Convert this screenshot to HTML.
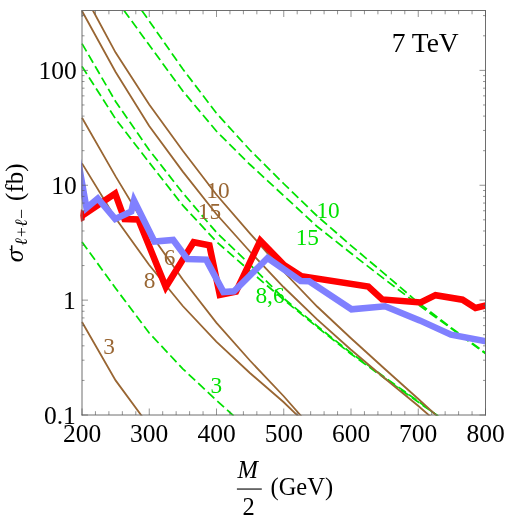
<!DOCTYPE html>
<html><head><meta charset="utf-8"><title>plot</title>
<style>html,body{margin:0;padding:0;background:#fff;}svg{display:block;will-change:transform;}text{font-family:"Liberation Serif",serif;}</style>
</head><body>
<svg width="505" height="517" viewBox="0 0 505 517">
<rect x="0" y="0" width="505" height="517" fill="#ffffff"/>
<defs><clipPath id="c"><rect x="81.0" y="10.0" width="405.0" height="405.5"/></clipPath></defs>
<g clip-path="url(#c)" fill="none">
<path d="M82.0,241.9 L115.6,288.3 L149.2,333.0 L182.8,368.8 L216.3,400.2 L234.9,417.0" stroke="#00e200" stroke-width="1.75" stroke-dasharray="9 4.1" stroke-dashoffset="0"/>
<path d="M82.0,66.4 L115.6,119.0 L149.2,162.5 L182.8,205.4 L216.3,241.5 L249.9,271.0 L283.5,299.5 L317.1,327.0 L350.7,353.7 L384.3,378.0 L417.8,401.8 L439.5,417.0" stroke="#00e200" stroke-width="1.75" stroke-dasharray="9 4.1" stroke-dashoffset="0"/>
<path d="M82.0,43.6 L115.6,101.5 L149.2,150.0 L182.8,193.0 L216.3,232.2 L249.9,264.5 L283.5,298.2 L317.1,326.0 L350.7,352.7 L384.3,377.0 L417.8,401.0 L439.2,417.0" stroke="#00e200" stroke-width="1.75" stroke-dasharray="9 4.1" stroke-dashoffset="0"/>
<path d="M124.0,10.5 L149.2,45.0 L182.8,91.0 L216.3,131.0 L249.9,164.5 L283.5,195.5 L317.1,226.5 L350.7,253.0 L384.3,279.0 L417.8,304.3 L451.4,328.6 L485.5,353.6" stroke="#00e200" stroke-width="1.75" stroke-dasharray="9 4.1" stroke-dashoffset="0"/>
<path d="M141.8,10.5 L149.2,21.0 L182.8,69.0 L216.3,113.0 L249.9,150.0 L283.5,183.5 L317.1,216.0 L350.7,245.3 L384.3,273.6 L417.8,302.3 L451.4,327.9 L485.5,353.0" stroke="#00e200" stroke-width="1.75" stroke-dasharray="9 4.1" stroke-dashoffset="0"/>
<path d="M82.0,322.0 L115.6,380.4 L142.5,417.0" stroke="#996633" stroke-width="1.8"/>
<path d="M82.0,163.4 L115.6,218.3 L149.2,265.0 L182.8,306.0 L216.3,341.6 L249.9,373.0 L283.5,402.0 L299.0,417.0" stroke="#996633" stroke-width="1.8"/>
<path d="M82.0,117.8 L115.6,176.4 L149.2,232.0 L182.8,279.5 L216.3,322.6 L249.9,360.5 L283.5,396.0 L302.0,417.0" stroke="#996633" stroke-width="1.8"/>
<path d="M82.0,11.0 L115.6,72.0 L149.2,126.0 L182.8,171.6 L216.3,214.0 L249.9,251.5 L283.5,287.0 L317.1,319.4 L350.7,349.5 L384.3,378.0 L417.8,405.5 L431.0,417.0" stroke="#996633" stroke-width="1.8"/>
<path d="M82.0,-11.0 L92.9,10.5 L115.6,52.6 L149.2,104.5 L182.8,150.8 L216.3,194.5 L249.9,233.3 L283.5,271.5 L317.1,306.5 L350.7,338.0 L384.3,368.5 L417.8,398.5 L438.0,417.0" stroke="#996633" stroke-width="1.8"/>
<path d="M76.0,219.7 L82.0,215.7 L115.2,193.6 L124.5,219.0 L138.4,219.5 L165.8,287.0 L193.6,242.2 L209.4,245.3 L219.8,295.0 L236.0,291.6 L260.3,240.6 L284.0,265.0 L301.5,276.2 L368.3,286.5 L382.2,299.4 L420.7,302.4 L435.5,295.2 L462.5,299.7 L475.5,308.0 L486.0,305.5" stroke="#ff0000" stroke-width="6.5" stroke-linejoin="miter" stroke-miterlimit="10"/>
</g>
<polygon points="81.0,208.9 80.3,215.5 81.0,221.9 84.5,220 85.3,213.6" fill="#ff0000"/>
<g clip-path="url(#c)" fill="none">
<path d="M77.1,155.2 L86.5,208.0 L97.8,198.5 L115.2,218.9 L131.3,211.5 L134.0,200.5 L154.5,241.6 L173.2,240.0 L187.4,259.0 L206.2,259.6 L223.5,292.0 L234.0,291.3 L267.6,258.0 L300.7,281.0 L309.2,281.3 L351.5,309.3 L385.1,306.3 L419.7,320.4 L451.0,334.7 L486.0,341.2" stroke="#8080ff" stroke-width="6.5" stroke-linejoin="miter" stroke-miterlimit="10"/>
</g>
<text x="218" y="198.1" font-size="23.3" fill="#996633" text-anchor="middle">10</text>
<text x="209.5" y="218.7" font-size="23.3" fill="#996633" text-anchor="middle">15</text>
<text x="169.5" y="264.9" font-size="23.3" fill="#996633" text-anchor="middle">6</text>
<text x="149.6" y="287.6" font-size="23.3" fill="#996633" text-anchor="middle">8</text>
<text x="109" y="353.6" font-size="23.3" fill="#996633" text-anchor="middle">3</text>
<text x="328.1" y="217.7" font-size="23.3" fill="#00e200" text-anchor="middle">10</text>
<text x="307.3" y="244.9" font-size="23.3" fill="#00e200" text-anchor="middle">15</text>
<text x="270" y="303.2" font-size="23.3" fill="#00e200" text-anchor="middle">8,6</text>
<text x="216.3" y="392.9" font-size="23.3" fill="#00e200" text-anchor="middle">3</text>
<g stroke="#6e6e6e" stroke-width="1" fill="none">
<line x1="82.0" y1="10.0" x2="82.0" y2="415.5"/>
<line x1="485.5" y1="10.0" x2="485.5" y2="415.5"/>
<line x1="81.5" y1="10.5" x2="486.0" y2="10.5"/>
<line x1="81.5" y1="415.0" x2="486.0" y2="415.0"/>
</g>
<g stroke="#5a5a5a" stroke-width="0.65" fill="none">
<line x1="82.00" y1="415.0" x2="82.00" y2="408.5"/>
<line x1="82.00" y1="10.5" x2="82.00" y2="17.0"/>
<line x1="95.45" y1="415.0" x2="95.45" y2="411.2"/>
<line x1="95.45" y1="10.5" x2="95.45" y2="14.3"/>
<line x1="108.90" y1="415.0" x2="108.90" y2="411.2"/>
<line x1="108.90" y1="10.5" x2="108.90" y2="14.3"/>
<line x1="122.35" y1="415.0" x2="122.35" y2="411.2"/>
<line x1="122.35" y1="10.5" x2="122.35" y2="14.3"/>
<line x1="135.80" y1="415.0" x2="135.80" y2="411.2"/>
<line x1="135.80" y1="10.5" x2="135.80" y2="14.3"/>
<line x1="149.25" y1="415.0" x2="149.25" y2="408.5"/>
<line x1="149.25" y1="10.5" x2="149.25" y2="17.0"/>
<line x1="162.70" y1="415.0" x2="162.70" y2="411.2"/>
<line x1="162.70" y1="10.5" x2="162.70" y2="14.3"/>
<line x1="176.15" y1="415.0" x2="176.15" y2="411.2"/>
<line x1="176.15" y1="10.5" x2="176.15" y2="14.3"/>
<line x1="189.60" y1="415.0" x2="189.60" y2="411.2"/>
<line x1="189.60" y1="10.5" x2="189.60" y2="14.3"/>
<line x1="203.05" y1="415.0" x2="203.05" y2="411.2"/>
<line x1="203.05" y1="10.5" x2="203.05" y2="14.3"/>
<line x1="216.50" y1="415.0" x2="216.50" y2="408.5"/>
<line x1="216.50" y1="10.5" x2="216.50" y2="17.0"/>
<line x1="229.95" y1="415.0" x2="229.95" y2="411.2"/>
<line x1="229.95" y1="10.5" x2="229.95" y2="14.3"/>
<line x1="243.40" y1="415.0" x2="243.40" y2="411.2"/>
<line x1="243.40" y1="10.5" x2="243.40" y2="14.3"/>
<line x1="256.85" y1="415.0" x2="256.85" y2="411.2"/>
<line x1="256.85" y1="10.5" x2="256.85" y2="14.3"/>
<line x1="270.30" y1="415.0" x2="270.30" y2="411.2"/>
<line x1="270.30" y1="10.5" x2="270.30" y2="14.3"/>
<line x1="283.75" y1="415.0" x2="283.75" y2="408.5"/>
<line x1="283.75" y1="10.5" x2="283.75" y2="17.0"/>
<line x1="297.20" y1="415.0" x2="297.20" y2="411.2"/>
<line x1="297.20" y1="10.5" x2="297.20" y2="14.3"/>
<line x1="310.65" y1="415.0" x2="310.65" y2="411.2"/>
<line x1="310.65" y1="10.5" x2="310.65" y2="14.3"/>
<line x1="324.10" y1="415.0" x2="324.10" y2="411.2"/>
<line x1="324.10" y1="10.5" x2="324.10" y2="14.3"/>
<line x1="337.55" y1="415.0" x2="337.55" y2="411.2"/>
<line x1="337.55" y1="10.5" x2="337.55" y2="14.3"/>
<line x1="351.00" y1="415.0" x2="351.00" y2="408.5"/>
<line x1="351.00" y1="10.5" x2="351.00" y2="17.0"/>
<line x1="364.45" y1="415.0" x2="364.45" y2="411.2"/>
<line x1="364.45" y1="10.5" x2="364.45" y2="14.3"/>
<line x1="377.90" y1="415.0" x2="377.90" y2="411.2"/>
<line x1="377.90" y1="10.5" x2="377.90" y2="14.3"/>
<line x1="391.35" y1="415.0" x2="391.35" y2="411.2"/>
<line x1="391.35" y1="10.5" x2="391.35" y2="14.3"/>
<line x1="404.80" y1="415.0" x2="404.80" y2="411.2"/>
<line x1="404.80" y1="10.5" x2="404.80" y2="14.3"/>
<line x1="418.25" y1="415.0" x2="418.25" y2="408.5"/>
<line x1="418.25" y1="10.5" x2="418.25" y2="17.0"/>
<line x1="431.70" y1="415.0" x2="431.70" y2="411.2"/>
<line x1="431.70" y1="10.5" x2="431.70" y2="14.3"/>
<line x1="445.15" y1="415.0" x2="445.15" y2="411.2"/>
<line x1="445.15" y1="10.5" x2="445.15" y2="14.3"/>
<line x1="458.60" y1="415.0" x2="458.60" y2="411.2"/>
<line x1="458.60" y1="10.5" x2="458.60" y2="14.3"/>
<line x1="472.05" y1="415.0" x2="472.05" y2="411.2"/>
<line x1="472.05" y1="10.5" x2="472.05" y2="14.3"/>
<line x1="485.50" y1="415.0" x2="485.50" y2="408.5"/>
<line x1="485.50" y1="10.5" x2="485.50" y2="17.0"/>
<line x1="82.0" y1="415.00" x2="88.0" y2="415.00"/>
<line x1="485.5" y1="415.00" x2="479.5" y2="415.00"/>
<line x1="82.0" y1="380.42" x2="84.5" y2="380.42"/>
<line x1="485.5" y1="380.42" x2="483.0" y2="380.42"/>
<line x1="82.0" y1="360.19" x2="84.5" y2="360.19"/>
<line x1="485.5" y1="360.19" x2="483.0" y2="360.19"/>
<line x1="82.0" y1="345.84" x2="84.5" y2="345.84"/>
<line x1="485.5" y1="345.84" x2="483.0" y2="345.84"/>
<line x1="82.0" y1="334.71" x2="84.5" y2="334.71"/>
<line x1="485.5" y1="334.71" x2="483.0" y2="334.71"/>
<line x1="82.0" y1="325.61" x2="84.5" y2="325.61"/>
<line x1="485.5" y1="325.61" x2="483.0" y2="325.61"/>
<line x1="82.0" y1="317.92" x2="84.5" y2="317.92"/>
<line x1="485.5" y1="317.92" x2="483.0" y2="317.92"/>
<line x1="82.0" y1="311.26" x2="84.5" y2="311.26"/>
<line x1="485.5" y1="311.26" x2="483.0" y2="311.26"/>
<line x1="82.0" y1="305.39" x2="84.5" y2="305.39"/>
<line x1="485.5" y1="305.39" x2="483.0" y2="305.39"/>
<line x1="82.0" y1="300.13" x2="88.0" y2="300.13"/>
<line x1="485.5" y1="300.13" x2="479.5" y2="300.13"/>
<line x1="82.0" y1="265.55" x2="84.5" y2="265.55"/>
<line x1="485.5" y1="265.55" x2="483.0" y2="265.55"/>
<line x1="82.0" y1="245.32" x2="84.5" y2="245.32"/>
<line x1="485.5" y1="245.32" x2="483.0" y2="245.32"/>
<line x1="82.0" y1="230.97" x2="84.5" y2="230.97"/>
<line x1="485.5" y1="230.97" x2="483.0" y2="230.97"/>
<line x1="82.0" y1="219.84" x2="84.5" y2="219.84"/>
<line x1="485.5" y1="219.84" x2="483.0" y2="219.84"/>
<line x1="82.0" y1="210.74" x2="84.5" y2="210.74"/>
<line x1="485.5" y1="210.74" x2="483.0" y2="210.74"/>
<line x1="82.0" y1="203.05" x2="84.5" y2="203.05"/>
<line x1="485.5" y1="203.05" x2="483.0" y2="203.05"/>
<line x1="82.0" y1="196.39" x2="84.5" y2="196.39"/>
<line x1="485.5" y1="196.39" x2="483.0" y2="196.39"/>
<line x1="82.0" y1="190.52" x2="84.5" y2="190.52"/>
<line x1="485.5" y1="190.52" x2="483.0" y2="190.52"/>
<line x1="82.0" y1="185.26" x2="88.0" y2="185.26"/>
<line x1="485.5" y1="185.26" x2="479.5" y2="185.26"/>
<line x1="82.0" y1="150.68" x2="84.5" y2="150.68"/>
<line x1="485.5" y1="150.68" x2="483.0" y2="150.68"/>
<line x1="82.0" y1="130.45" x2="84.5" y2="130.45"/>
<line x1="485.5" y1="130.45" x2="483.0" y2="130.45"/>
<line x1="82.0" y1="116.10" x2="84.5" y2="116.10"/>
<line x1="485.5" y1="116.10" x2="483.0" y2="116.10"/>
<line x1="82.0" y1="104.97" x2="84.5" y2="104.97"/>
<line x1="485.5" y1="104.97" x2="483.0" y2="104.97"/>
<line x1="82.0" y1="95.87" x2="84.5" y2="95.87"/>
<line x1="485.5" y1="95.87" x2="483.0" y2="95.87"/>
<line x1="82.0" y1="88.18" x2="84.5" y2="88.18"/>
<line x1="485.5" y1="88.18" x2="483.0" y2="88.18"/>
<line x1="82.0" y1="81.52" x2="84.5" y2="81.52"/>
<line x1="485.5" y1="81.52" x2="483.0" y2="81.52"/>
<line x1="82.0" y1="75.65" x2="84.5" y2="75.65"/>
<line x1="485.5" y1="75.65" x2="483.0" y2="75.65"/>
<line x1="82.0" y1="70.39" x2="88.0" y2="70.39"/>
<line x1="485.5" y1="70.39" x2="479.5" y2="70.39"/>
<line x1="82.0" y1="35.81" x2="84.5" y2="35.81"/>
<line x1="485.5" y1="35.81" x2="483.0" y2="35.81"/>
<line x1="82.0" y1="15.58" x2="84.5" y2="15.58"/>
<line x1="485.5" y1="15.58" x2="483.0" y2="15.58"/>
</g>
<g font-size="25.5" fill="#000">
<text x="82.0" y="442.3" text-anchor="middle">200</text>
<text x="149.2" y="442.3" text-anchor="middle">300</text>
<text x="216.5" y="442.3" text-anchor="middle">400</text>
<text x="283.8" y="442.3" text-anchor="middle">500</text>
<text x="351.0" y="442.3" text-anchor="middle">600</text>
<text x="418.2" y="442.3" text-anchor="middle">700</text>
<text x="485.5" y="442.3" text-anchor="middle">800</text>
<text x="75.8" y="423.6" text-anchor="end">0.1</text>
<text x="75.8" y="308.7" text-anchor="end">1</text>
<text x="76.8" y="193.9" text-anchor="end">10</text>
<text x="76.8" y="79.0" text-anchor="end">100</text>
</g>
<text x="425.2" y="52.1" font-size="27.5" text-anchor="middle" fill="#000">7 TeV</text>
<g fill="#000" font-size="24.5">
<text x="247.7" y="477.7" text-anchor="middle" font-style="italic">M</text>
<rect x="236.9" y="488.5" width="24.9" height="1.1" fill="#000"/>
<text x="248.6" y="514.6" text-anchor="middle">2</text>
<text x="270.5" y="495" text-anchor="start">(GeV)</text>
</g>
<g transform="translate(22.6,262.2) rotate(-90)" fill="#000">
<text x="0" y="0" font-size="25.5" font-style="italic">σ</text>
<line x1="10.5" y1="-10.9" x2="16.9" y2="-10.9" stroke="#000" stroke-width="1.5"/>
<g font-size="17.5" text-anchor="middle">
<text x="20.3" y="4.2" font-style="italic">ℓ</text>
<text x="30.2" y="4.2">+</text>
<text x="39.0" y="4.2" font-style="italic">ℓ</text>
<text x="48.5" y="4.2">−</text>
</g>
<text x="61.3" y="0" font-size="25">(fb)</text>
</g>
</svg></body></html>
